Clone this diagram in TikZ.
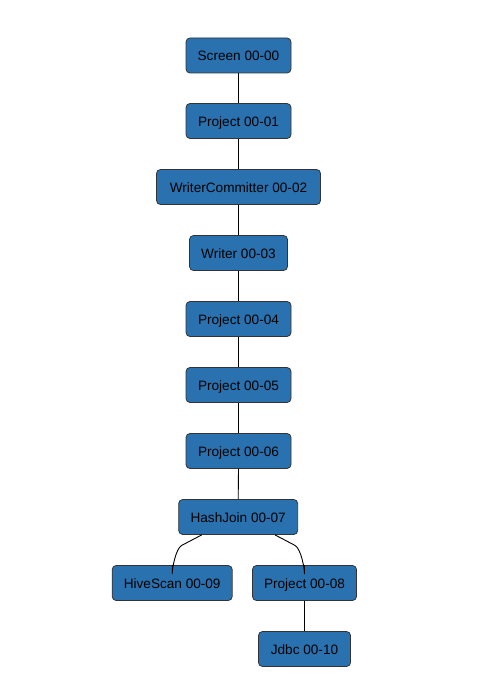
\documentclass[tikz,border=0pt]{standalone}
\usepackage{fontspec}
\setmainfont{Liberation Sans}
\begin{document}
\begin{tikzpicture}[x=1pt,y=-1pt,
  op/.style={draw=black!80, fill=opblue, rounded corners=4pt, line width=0.8pt,
    minimum height=35pt, inner xsep=0pt, text height=11pt, text depth=0pt,
    font=\fontsize{13.6}{15}\selectfont, text=black},
  link/.style={draw=black, line width=0.9pt}]
\definecolor{opblue}{HTML}{2A72AF}
\useasboundingbox (0,0) rectangle (497,698);
\node[op, minimum width=105pt] (n0) at (238.5,55.5) {Screen 00-00};
\node[op, minimum width=105pt] (n1) at (238.5,121) {Project 00-01};
\node[op, minimum width=164pt] (n2) at (238.5,187) {WriterCommitter 00-02};
\node[op, minimum width=98pt] (n3) at (238.5,253) {Writer 00-03};
\node[op, minimum width=105pt] (n4) at (238.5,319) {Project 00-04};
\node[op, minimum width=105pt] (n5) at (238.5,385) {Project 00-05};
\node[op, minimum width=105pt] (n6) at (238.5,451) {Project 00-06};
\node[op, minimum width=119pt] (n7) at (238.2,517) {HashJoin 00-07};
\node[op, minimum width=120pt] (n9) at (172.2,583) {HiveScan 00-09};
\node[op, minimum width=104pt] (n8) at (304.5,583) {Project 00-08};
\node[op, minimum width=92pt] (n10) at (304.5,649) {Jdbc 00-10};
\foreach \a/\b in {n0/n1,n1/n2,n2/n3,n3/n4,n4/n5,n5/n6,n6/n7,n8/n10}
  \draw[link] (\a.south) -- (\b.north);
\draw[link] (n7.south) ++(-36.5,0) -- ++(-20,10.5)
  .. controls ++(-6,3.5) and ++(0,-6) .. ([yshift=-9pt]n9.north) -- (n9.north);
\draw[link] (n7.south) ++(36.8,0) -- ++(20,10.5)
  .. controls ++(6,3.5) and ++(0,-6) .. ([yshift=-9pt]n8.north) -- (n8.north);
\end{tikzpicture}
\end{document}
